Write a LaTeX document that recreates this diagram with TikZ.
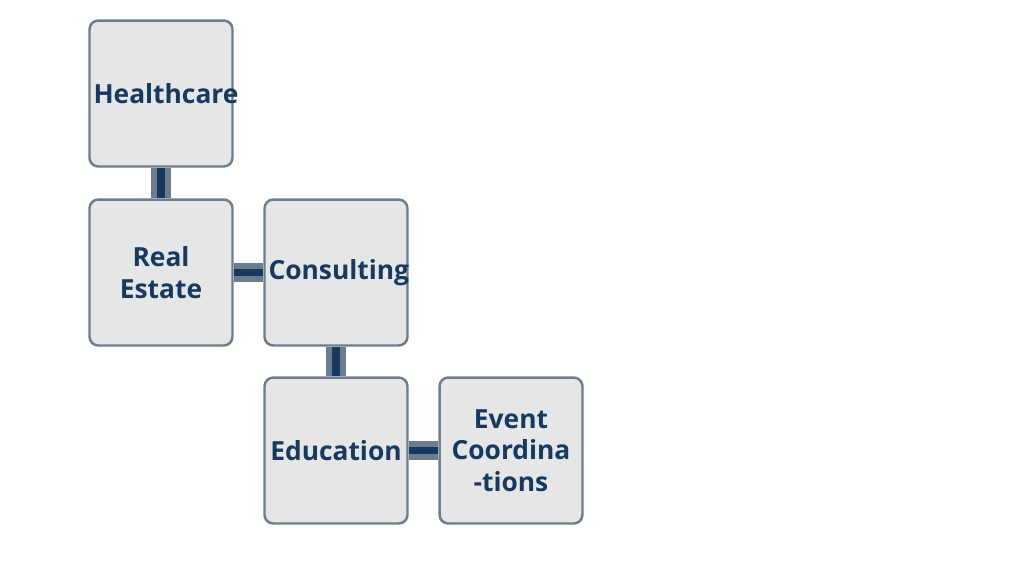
\documentclass[tikz,border=0pt]{standalone}
\usepackage{fontspec}
\setmainfont{Open Sans}
\definecolor{boxfill}{HTML}{E6E6E6}
\definecolor{boxline}{HTML}{6E7D8E}
\definecolor{navy}{HTML}{163A5F}
\begin{document}
\begin{tikzpicture}[x=0.02cm, y=-0.02cm,
    sector/.style={draw=boxline, fill=boxfill, line width=1.4pt, rounded corners=5pt,
      minimum width=2.86cm, minimum height=2.92cm, text width=2.7cm, align=center,
      font=\bfseries\fontsize{15}{18}\selectfont, text=navy, inner sep=0pt},
    link/.style={line width=11pt, draw=boxline},
    core/.style={line width=4.5pt, draw=navy}]

    \useasboundingbox (0,0) rectangle (1024,576);

    % Boxes
    \node[sector] at (161, 93.5) (H) {Healthcare};
    \node[sector] at (161, 272.5) (R) {Real Estate};
    \node[sector] at (336, 272.5) (C) {Consulting};
    \node[sector] at (336, 450.5) (E) {Education};
    \node[sector] at (511, 450.5) (V) {Event\\Coordina\\-tions};

    % Links
    \foreach \a/\b in {H.south/R.north, R.east/C.west, C.south/E.north, E.east/V.west} {
      \draw[link] (\a) -- (\b);
      \draw[core] (\a) -- (\b);
    }

\end{tikzpicture}
\end{document}
